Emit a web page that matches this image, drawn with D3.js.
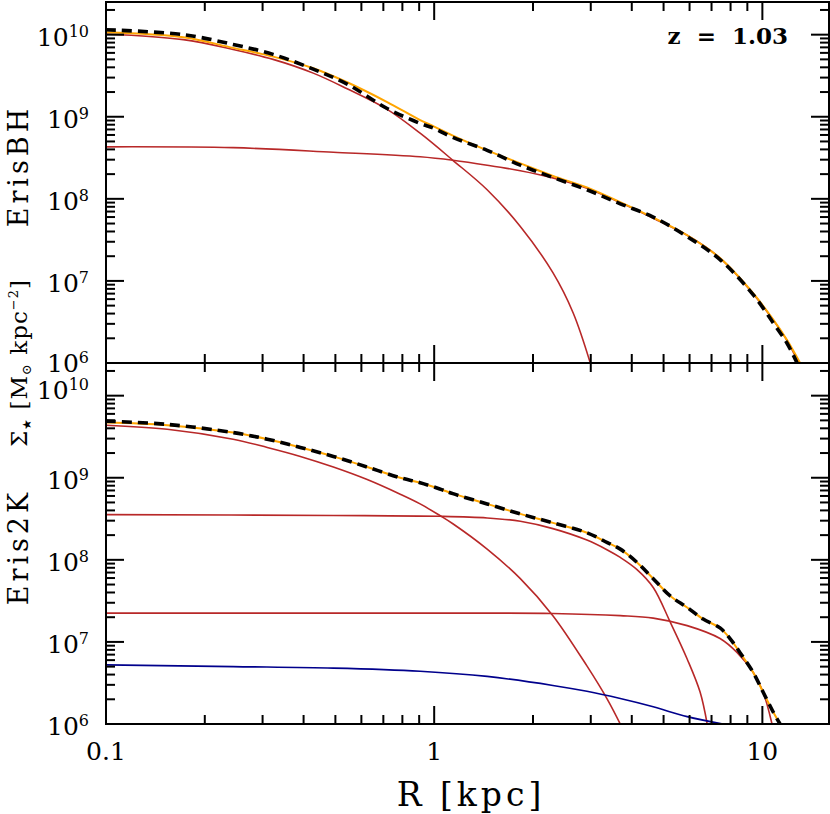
<!DOCTYPE html>
<html>
<head>
<meta charset="utf-8">
<script src="https://cdn.jsdelivr.net/npm/d3@7"></script>
<style>
  body { margin: 0; background: #fff; }
  text { font-family: "DejaVu Serif", serif; fill: #000; }
</style>
</head>
<body>
<svg id="chart" width="830" height="814"></svg>
<script>
// ErisBH (top panel): radius in kpc, surface density in Msun/kpc^2
const bhDataR = [0.1, 0.172, 0.244, 0.323, 0.428, 0.543, 0.719, 0.906, 1.0, 1.14, 1.45, 1.83, 2.30, 2.92, 3.69, 4.65, 5.90, 7.43, 9.37, 10.78, 11.89, 12.76];
const bhDataSigma = [1.15e10, 1.0e10, 7.6e9, 5.75e9, 3.8e9, 2.5e9, 1.26e9, 8.3e8, 7.2e8, 5.6e8, 3.9e8, 2.57e8, 1.82e8, 1.29e8, 8.7e7, 6.0e7, 3.47e7, 1.82e7, 6.8e6, 3.1e6, 1.74e6, 1.0e6];

const bhFitR = [0.1, 0.172, 0.244, 0.323, 0.428, 0.543, 0.719, 0.906, 1.0, 1.14, 1.45, 1.83, 2.30, 2.92, 3.69, 4.65, 5.90, 7.43, 9.37, 10.78, 11.89, 13.03];
const bhFitSigma = [1.07e10, 9.3e9, 6.9e9, 5.4e9, 3.9e9, 2.63e9, 1.51e9, 9.1e8, 7.6e8, 5.9e8, 3.9e8, 2.7e8, 1.9e8, 1.38e8, 9.1e7, 5.9e7, 3.6e7, 1.9e7, 7.1e6, 3.4e6, 1.9e6, 1.0e6];

const bhBulgeR = [0.1, 0.172, 0.244, 0.323, 0.428, 0.543, 0.719, 0.906, 1.14, 1.45, 1.83, 2.30, 2.65, 2.99];
const bhBulgeSigma = [1.02e10, 8.7e9, 6.6e9, 5.0e9, 3.4e9, 2.19e9, 1.23e9, 6.3e8, 2.95e8, 1.29e8, 4.6e7, 1.26e7, 4.1e6, 1.0e6];

const bhDiskR = [0.1, 0.244, 0.493, 0.906, 1.14, 1.45, 1.83, 2.30, 2.92, 3.69, 4.65, 5.90, 7.43, 9.37, 10.78, 11.89, 12.9];
const bhDiskSigma = [4.3e8, 4.2e8, 3.7e8, 3.25e8, 2.95e8, 2.57e8, 2.2e8, 1.8e8, 1.35e8, 9.0e7, 5.8e7, 3.6e7, 1.9e7, 7.0e6, 3.35e6, 1.88e6, 1.0e6];

// Eris2K (bottom panel)
const k2DataR = [0.1, 0.1537, 0.244, 0.310, 0.391, 0.493, 0.625, 0.788, 0.906, 1.04, 1.14, 1.45, 1.83, 2.30, 2.92, 3.37, 3.69, 4.15, 4.65, 5.24, 5.90, 6.60, 7.43, 7.97, 8.55, 9.37, 10.05, 10.78, 11.32];
const k2DataSigma = [4.9e9, 4.47e9, 3.55e9, 2.95e9, 2.34e9, 1.82e9, 1.35e9, 1.0e9, 8.7e8, 7.3e8, 6.4e8, 4.8e8, 3.63e8, 2.82e8, 2.14e8, 1.62e8, 1.35e8, 9.3e7, 5.9e7, 3.63e7, 2.63e7, 1.9e7, 1.48e7, 1.1e7, 7.4e6, 4.27e6, 2.45e6, 1.41e6, 1.0e6];
const k2FitSigma = [4.7e9, 4.37e9, 3.55e9, 2.95e9, 2.34e9, 1.82e9, 1.35e9, 1.0e9, 8.7e8, 7.3e8, 6.4e8, 4.8e8, 3.63e8, 2.82e8, 2.14e8, 1.62e8, 1.35e8, 9.3e7, 5.9e7, 3.63e7, 2.63e7, 1.9e7, 1.48e7, 1.1e7, 7.4e6, 4.27e6, 2.45e6, 1.41e6, 1.0e6];

const k2BulgeR = [0.1, 0.1537, 0.244, 0.310, 0.391, 0.493, 0.625, 0.788, 0.906, 1.04, 1.14, 1.45, 1.83, 2.30, 2.92, 3.37, 3.69];
const k2BulgeSigma = [4.37e9, 3.9e9, 2.95e9, 2.34e9, 1.82e9, 1.35e9, 9.5e8, 6.3e8, 4.8e8, 3.47e8, 2.75e8, 1.35e8, 5.9e7, 2.09e7, 5.1e6, 2.0e6, 1.0e6];

const k2Disk1R = [0.1, 0.493, 1.04, 1.45, 1.83, 2.30, 2.92, 3.37, 3.69, 4.15, 4.65, 5.24, 5.90, 6.46, 6.79];
const k2Disk1Sigma = [3.55e8, 3.47e8, 3.39e8, 3.24e8, 2.95e8, 2.4e8, 1.74e8, 1.32e8, 1.07e8, 7.6e7, 4.6e7, 1.74e7, 6.2e6, 2.45e6, 1.0e6];

const k2Disk2R = [0.1, 1.0, 2.30, 3.69, 4.65, 5.90, 7.43, 8.38, 9.37, 10.05, 10.7];
const k2Disk2Sigma = [2.24e7, 2.24e7, 2.22e7, 2.09e7, 1.95e7, 1.58e7, 1.1e7, 7.4e6, 4.27e6, 2.45e6, 1.0e6];

const k2HaloR = [0.1, 0.244, 0.493, 0.906, 1.45, 2.30, 2.92, 3.69, 4.65, 5.90, 7.59];
const k2HaloSigma = [5.25e6, 5.0e6, 4.8e6, 4.4e6, 3.8e6, 2.95e6, 2.5e6, 2.04e6, 1.62e6, 1.23e6, 1.0e6];

const xTickValues = [0.1, 1, 10];
const xTickLabels = ["0.1", "1", "10"];
const yExponents = [6, 7, 8, 9, 10];

const colors = {data: "#000", fit: "#ffa500", comp: "#b82828", extra: "#00008c"};

const margin = {top: 2, left: 106, right: 1};
const plotWidth = 830 - margin.left - margin.right;
const panelHeight = 361;

const svg = d3.select("#chart");

const x = d3.scaleLog().domain([0.1, 15.96]).range([margin.left, margin.left + plotWidth]);

function zip(rs, ss) {
  return rs.map((r, i) => [r, ss[i]]);
}

function drawPanel(top, series, isBottom) {
  const y = d3.scaleLog().domain([1e6, 2.5e10]).range([top + panelHeight, top]);
  const g = svg.append("g");
  const clipId = "clip" + Math.round(top);

  svg.append("clipPath").attr("id", clipId)
    .append("rect")
    .attr("x", margin.left).attr("y", top)
    .attr("width", plotWidth).attr("height", panelHeight);

  const line = d3.line()
    .x(d => x(d[0]))
    .y(d => y(d[1]))
    .curve(d3.curveCatmullRom.alpha(0.5));

  const curves = g.append("g").attr("clip-path", `url(#${clipId})`);
  series.forEach(s => {
    curves.append("path")
      .attr("d", line(zip(s.r, s.sigma)))
      .attr("fill", "none")
      .attr("stroke", s.color)
      .attr("stroke-width", s.width)
      .attr("stroke-dasharray", s.dash || null);
  });

  // frame
  g.append("rect")
    .attr("x", margin.left).attr("y", top)
    .attr("width", plotWidth).attr("height", panelHeight)
    .attr("fill", "none").attr("stroke", "#000").attr("stroke-width", 2);

  const isMajor = v => Math.abs(Math.log10(v) - Math.round(Math.log10(v))) < 1e-6;

  // x ticks on top and bottom edges, pointing inward
  x.ticks().forEach(t => {
    const len = isMajor(t) ? 18 : 9;
    const px = x(t);
    g.append("line").attr("x1", px).attr("x2", px)
      .attr("y1", top + panelHeight).attr("y2", top + panelHeight - len)
      .attr("stroke", "#000").attr("stroke-width", 2);
    g.append("line").attr("x1", px).attr("x2", px)
      .attr("y1", top).attr("y2", top + len)
      .attr("stroke", "#000").attr("stroke-width", 2);
  });

  // y ticks on left and right edges
  y.ticks().forEach(t => {
    const len = isMajor(t) ? 18 : 9;
    const py = y(t);
    g.append("line").attr("x1", margin.left).attr("x2", margin.left + len)
      .attr("y1", py).attr("y2", py)
      .attr("stroke", "#000").attr("stroke-width", 2);
    g.append("line").attr("x1", margin.left + plotWidth).attr("x2", margin.left + plotWidth - len)
      .attr("y1", py).attr("y2", py)
      .attr("stroke", "#000").attr("stroke-width", 2);
  });

  // y tick labels 10^n
  yExponents.forEach(e => {
    let base = y(Math.pow(10, e)) + 11;
    if (isBottom && e === 10) base -= 8;
    if (!isBottom && e === 6) base -= 2;
    const t = g.append("text")
      .attr("x", 89).attr("y", base)
      .attr("text-anchor", "end")
      .attr("font-size", 25);
    t.append("tspan").text("10");
    t.append("tspan").attr("dy", -9).attr("font-size", 16).text(e);
  });

  return y;
}

drawPanel(margin.top, [
  {r: bhBulgeR, sigma: bhBulgeSigma, color: colors.comp, width: 1.6},
  {r: bhDiskR, sigma: bhDiskSigma, color: colors.comp, width: 1.6},
  {r: bhFitR, sigma: bhFitSigma, color: colors.fit, width: 2},
  {r: bhDataR, sigma: bhDataSigma, color: colors.data, width: 3.6, dash: "10,6"}
], false);

drawPanel(margin.top + panelHeight, [
  {r: k2BulgeR, sigma: k2BulgeSigma, color: colors.comp, width: 1.6},
  {r: k2Disk1R, sigma: k2Disk1Sigma, color: colors.comp, width: 1.6},
  {r: k2Disk2R, sigma: k2Disk2Sigma, color: colors.comp, width: 1.6},
  {r: k2HaloR, sigma: k2HaloSigma, color: colors.extra, width: 1.6},
  {r: k2DataR, sigma: k2FitSigma, color: colors.fit, width: 2},
  {r: k2DataR, sigma: k2DataSigma, color: colors.data, width: 3.6, dash: "10,6"}
], true);

// panel names
[["ErisBH", 166], ["Eris2K", 547]].forEach(([name, cy]) => {
  svg.append("text")
    .attr("transform", `translate(28,${cy}) rotate(-90)`)
    .attr("text-anchor", "middle")
    .attr("font-size", 27)
    .attr("letter-spacing", 4)
    .text(name);
});

// x tick labels
xTickValues.forEach((v, i) => {
  svg.append("text")
    .attr("x", x(v)).attr("y", 760)
    .attr("text-anchor", "middle")
    .attr("font-size", 25)
    .text(xTickLabels[i]);
});

// x axis title
svg.append("text")
  .attr("x", 471).attr("y", 806)
  .attr("text-anchor", "middle")
  .attr("font-size", 33)
  .attr("letter-spacing", 4)
  .text("R [kpc]");

// shared y axis title
const yt = svg.append("text")
  .attr("transform", "translate(27,363) rotate(-90)")
  .attr("text-anchor", "middle")
  .attr("font-size", 23)
  .attr("letter-spacing", 1);
yt.append("tspan").text("Σ");
yt.append("tspan").attr("dy", 4).attr("font-size", 12).text("★");
yt.append("tspan").attr("dy", -4).text(" [M");
yt.append("tspan").attr("dy", 4).attr("font-size", 13).text("⊙");
yt.append("tspan").attr("dy", -4).text(" kpc");
yt.append("tspan").attr("dy", -9).attr("font-size", 13).text("−2");
yt.append("tspan").attr("dy", 9).text("]");

// redshift label
svg.append("text")
  .attr("x", 788).attr("y", 44)
  .attr("text-anchor", "end")
  .attr("font-size", 23)
  .attr("font-weight", "bold")
  .style("white-space", "pre")
  .text("z  =  1.03");
</script>
</body>
</html>
